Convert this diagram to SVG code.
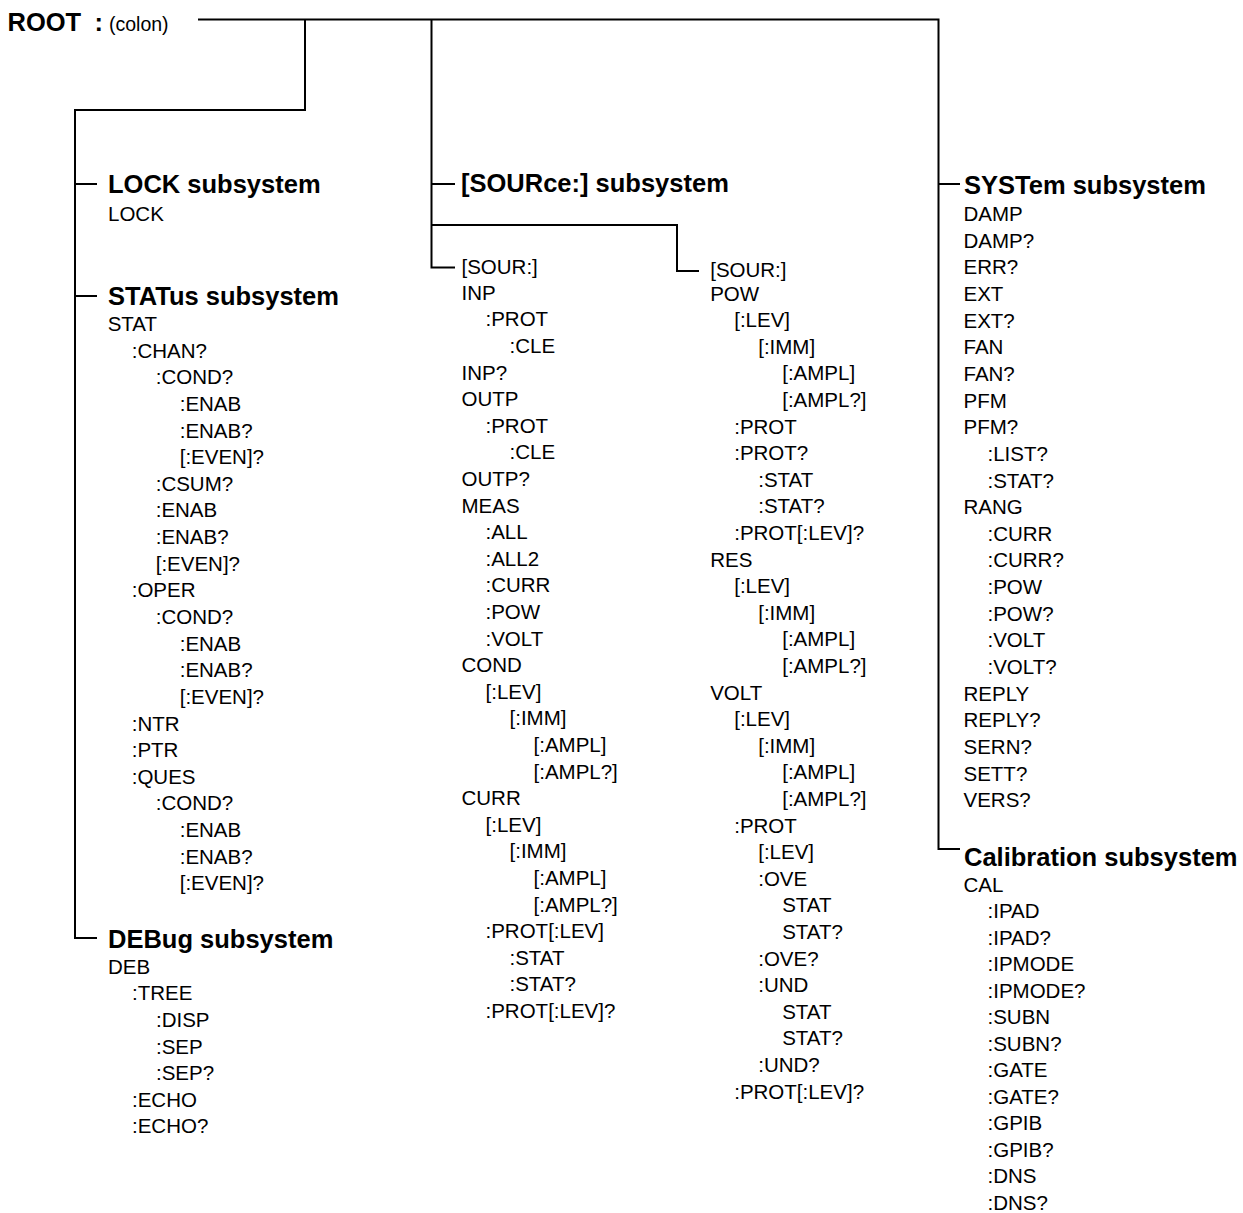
<svg xmlns="http://www.w3.org/2000/svg" width="1243" height="1213" viewBox="0 0 1243 1213">
<style>
text{font-family:"Liberation Sans",Arial,sans-serif;fill:#000}
.h{font-size:25.5px;font-weight:bold}
.b{font-size:20.5px}
.c{font-size:19.5px}
.ln{fill:none;stroke:#000;stroke-width:2}
</style>
<rect width="1243" height="1213" fill="#fff"/>
<g id="connectors">
<path class="ln" d="M198 19.5H938.5V849H960"/>
<path class="ln" d="M305 19.5V110H75V938H97"/>
<path class="ln" d="M75 184H97M75 296H97"/>
<path class="ln" d="M431.5 19.5V267.5H455M431.5 184H455M431.5 225H677V271H699"/>
<path class="ln" d="M938.5 184H960"/>
</g>
<g id="root">
<text class="h" x="7.5" y="31">ROOT</text>
<text class="h" x="94.5" y="31">:</text>
<text class="c" x="109" y="31">(colon)</text>
</g>
<g id="lock">
<text class="h" x="108" y="193">LOCK subsystem</text>
<text class="b" x="108" y="220.5">LOCK</text>
</g>
<g id="status">
<text class="h" x="108" y="305">STATus subsystem</text>
<text class="b" x="107.7" y="331">STAT</text>
<text class="b" x="131.7" y="357.6">:CHAN?</text>
<text class="b" x="155.7" y="384.3">:COND?</text>
<text class="b" x="179.7" y="410.9">:ENAB</text>
<text class="b" x="179.7" y="437.5">:ENAB?</text>
<text class="b" x="179.7" y="464.2">[:EVEN]?</text>
<text class="b" x="155.7" y="490.8">:CSUM?</text>
<text class="b" x="155.7" y="517.4">:ENAB</text>
<text class="b" x="155.7" y="544">:ENAB?</text>
<text class="b" x="155.7" y="570.7">[:EVEN]?</text>
<text class="b" x="131.7" y="597.3">:OPER</text>
<text class="b" x="155.7" y="623.9">:COND?</text>
<text class="b" x="179.7" y="650.6">:ENAB</text>
<text class="b" x="179.7" y="677.2">:ENAB?</text>
<text class="b" x="179.7" y="703.8">[:EVEN]?</text>
<text class="b" x="131.7" y="730.5">:NTR</text>
<text class="b" x="131.7" y="757.1">:PTR</text>
<text class="b" x="131.7" y="783.7">:QUES</text>
<text class="b" x="155.7" y="810.3">:COND?</text>
<text class="b" x="179.7" y="837">:ENAB</text>
<text class="b" x="179.7" y="863.6">:ENAB?</text>
<text class="b" x="179.7" y="890.2">[:EVEN]?</text>
</g>
<g id="debug">
<text class="h" x="108" y="947.5">DEBug subsystem</text>
<text class="b" x="108" y="973.8">DEB</text>
<text class="b" x="132" y="1000.4">:TREE</text>
<text class="b" x="156" y="1027">:DISP</text>
<text class="b" x="156" y="1053.6">:SEP</text>
<text class="b" x="156" y="1080.2">:SEP?</text>
<text class="b" x="132" y="1106.8">:ECHO</text>
<text class="b" x="132" y="1133.4">:ECHO?</text>
</g>
<g id="source">
<text class="h" x="461" y="192">[SOURce:] subsystem</text>
</g>
<g id="source-inp">
<text class="b" x="461.5" y="273.5">[SOUR:]</text>
<text class="b" x="461.5" y="299.8">INP</text>
<text class="b" x="485.5" y="326.4">:PROT</text>
<text class="b" x="509.5" y="353">:CLE</text>
<text class="b" x="461.5" y="379.6">INP?</text>
<text class="b" x="461.5" y="406.2">OUTP</text>
<text class="b" x="485.5" y="432.8">:PROT</text>
<text class="b" x="509.5" y="459.4">:CLE</text>
<text class="b" x="461.5" y="486">OUTP?</text>
<text class="b" x="461.5" y="512.6">MEAS</text>
<text class="b" x="485.5" y="539.2">:ALL</text>
<text class="b" x="485.5" y="565.8">:ALL2</text>
<text class="b" x="485.5" y="592.4">:CURR</text>
<text class="b" x="485.5" y="619">:POW</text>
<text class="b" x="485.5" y="645.6">:VOLT</text>
<text class="b" x="461.5" y="672.2">COND</text>
<text class="b" x="485.5" y="698.8">[:LEV]</text>
<text class="b" x="509.5" y="725.4">[:IMM]</text>
<text class="b" x="533.5" y="752">[:AMPL]</text>
<text class="b" x="533.5" y="778.6">[:AMPL?]</text>
<text class="b" x="461.5" y="805.2">CURR</text>
<text class="b" x="485.5" y="831.8">[:LEV]</text>
<text class="b" x="509.5" y="858.4">[:IMM]</text>
<text class="b" x="533.5" y="885">[:AMPL]</text>
<text class="b" x="533.5" y="911.6">[:AMPL?]</text>
<text class="b" x="485.5" y="938.2">:PROT[:LEV]</text>
<text class="b" x="509.5" y="964.8">:STAT</text>
<text class="b" x="509.5" y="991.4">:STAT?</text>
<text class="b" x="485.5" y="1018">:PROT[:LEV]?</text>
</g>
<g id="source-pow">
<text class="b" x="710.2" y="276.5">[SOUR:]</text>
<text class="b" x="710.2" y="300.5">POW</text>
<text class="b" x="734.2" y="327.1">[:LEV]</text>
<text class="b" x="758.2" y="353.7">[:IMM]</text>
<text class="b" x="782.2" y="380.3">[:AMPL]</text>
<text class="b" x="782.2" y="406.9">[:AMPL?]</text>
<text class="b" x="734.2" y="433.5">:PROT</text>
<text class="b" x="734.2" y="460.1">:PROT?</text>
<text class="b" x="758.2" y="486.7">:STAT</text>
<text class="b" x="758.2" y="513.3">:STAT?</text>
<text class="b" x="734.2" y="539.9">:PROT[:LEV]?</text>
<text class="b" x="710.2" y="566.5">RES</text>
<text class="b" x="734.2" y="593.1">[:LEV]</text>
<text class="b" x="758.2" y="619.7">[:IMM]</text>
<text class="b" x="782.2" y="646.3">[:AMPL]</text>
<text class="b" x="782.2" y="672.9">[:AMPL?]</text>
<text class="b" x="710.2" y="699.5">VOLT</text>
<text class="b" x="734.2" y="726.1">[:LEV]</text>
<text class="b" x="758.2" y="752.7">[:IMM]</text>
<text class="b" x="782.2" y="779.3">[:AMPL]</text>
<text class="b" x="782.2" y="805.9">[:AMPL?]</text>
<text class="b" x="734.2" y="832.5">:PROT</text>
<text class="b" x="758.2" y="859.1">[:LEV]</text>
<text class="b" x="758.2" y="885.7">:OVE</text>
<text class="b" x="782.2" y="912.3">STAT</text>
<text class="b" x="782.2" y="938.9">STAT?</text>
<text class="b" x="758.2" y="965.5">:OVE?</text>
<text class="b" x="758.2" y="992.1">:UND</text>
<text class="b" x="782.2" y="1018.7">STAT</text>
<text class="b" x="782.2" y="1045.3">STAT?</text>
<text class="b" x="758.2" y="1071.9">:UND?</text>
<text class="b" x="734.2" y="1098.5">:PROT[:LEV]?</text>
</g>
<g id="system">
<text class="h" x="964" y="194">SYSTem subsystem</text>
<text class="b" x="963.5" y="221">DAMP</text>
<text class="b" x="963.5" y="247.6">DAMP?</text>
<text class="b" x="963.5" y="274.3">ERR?</text>
<text class="b" x="963.5" y="300.9">EXT</text>
<text class="b" x="963.5" y="327.6">EXT?</text>
<text class="b" x="963.5" y="354.2">FAN</text>
<text class="b" x="963.5" y="380.9">FAN?</text>
<text class="b" x="963.5" y="407.5">PFM</text>
<text class="b" x="963.5" y="434.2">PFM?</text>
<text class="b" x="987.5" y="460.8">:LIST?</text>
<text class="b" x="987.5" y="487.5">:STAT?</text>
<text class="b" x="963.5" y="514.1">RANG</text>
<text class="b" x="987.5" y="540.8">:CURR</text>
<text class="b" x="987.5" y="567.4">:CURR?</text>
<text class="b" x="987.5" y="594.1">:POW</text>
<text class="b" x="987.5" y="620.7">:POW?</text>
<text class="b" x="987.5" y="647.4">:VOLT</text>
<text class="b" x="987.5" y="674">:VOLT?</text>
<text class="b" x="963.5" y="700.7">REPLY</text>
<text class="b" x="963.5" y="727.3">REPLY?</text>
<text class="b" x="963.5" y="754">SERN?</text>
<text class="b" x="963.5" y="780.6">SETT?</text>
<text class="b" x="963.5" y="807.3">VERS?</text>
</g>
<g id="calibration">
<text class="h" x="964" y="865.5">Calibration subsystem</text>
<text class="b" x="963.5" y="891.5">CAL</text>
<text class="b" x="987.5" y="918">:IPAD</text>
<text class="b" x="987.5" y="944.5">:IPAD?</text>
<text class="b" x="987.5" y="971">:IPMODE</text>
<text class="b" x="987.5" y="997.5">:IPMODE?</text>
<text class="b" x="987.5" y="1024">:SUBN</text>
<text class="b" x="987.5" y="1050.5">:SUBN?</text>
<text class="b" x="987.5" y="1077">:GATE</text>
<text class="b" x="987.5" y="1103.5">:GATE?</text>
<text class="b" x="987.5" y="1130">:GPIB</text>
<text class="b" x="987.5" y="1156.5">:GPIB?</text>
<text class="b" x="987.5" y="1183">:DNS</text>
<text class="b" x="987.5" y="1209.5">:DNS?</text>
</g>
</svg>
